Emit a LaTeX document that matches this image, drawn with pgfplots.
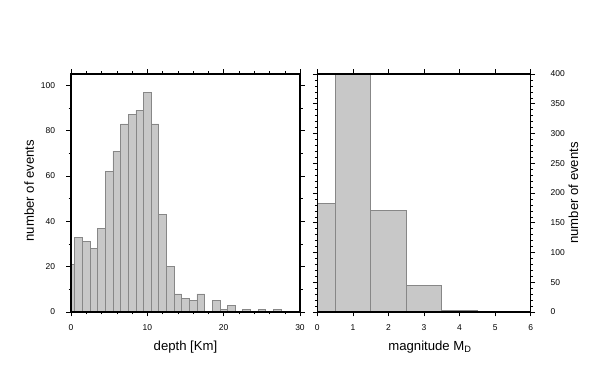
\documentclass[border=0pt]{standalone}
\usepackage{fontspec}
\setmainfont{Liberation Sans}
\usepackage{pgfplots}
\pgfplotsset{compat=1.18}
\definecolor{barfill}{RGB}{200,200,200}
\definecolor{baredge}{RGB}{135,135,135}
\newcommand{\labfont}{\fontsize{13.2}{15}\selectfont}
\pgfplotsset{
  hist/.style={
    scale only axis,
    height=238bp,
    ymin=0,
    tick align=outside,
    major tick length=4.5bp,
    minor tick length=2.5bp,
    every tick/.style={black, line width=0.5bp},
    every minor tick/.style={black, line width=0.4bp},
    axis line style={black, line width=1.1bp},
    tick label style={font=\fontsize{8.5}{10}\selectfont},
    /pgf/number format/assume math mode=true,
    xtick pos=both,
    ytick pos=both,
    xticklabel pos=lower,
    xticklabel style={yshift=-5bp},
    scaled y ticks=false,
    ybar, bar width=1,
    axis on top,
  }
}
\begin{document}
\begin{tikzpicture}
\path (0,0) rectangle (602bp,383bp);
% depth histogram
\begin{axis}[hist,
  at={(71bp,71bp)}, anchor=south west,
  width=229bp,
  xmin=0, xmax=30, ymax=105,
  xtick={0,10,20,30}, minor x tick num=4,
  ytick={0,20,40,60,80,100}, minor y tick num=1,
  yticklabel pos=left,
  yticklabel style={xshift=-8bp},
  xlabel={depth [Km]},
  ylabel={number of events},
  xlabel style={at={(axis description cs:0.5,-0.1626)}, anchor=base, font=\labfont},
  ylabel style={at={(axis description cs:-0.1616,0.51)}, anchor=base, font=\labfont},
]
\addplot[fill=barfill, draw=baredge, line width=0.7bp] coordinates {
(0,21) (1,33) (2,31) (3,28) (4,37) (5,62) (6,71) (7,83) (8,87) (9,89)
(10,97) (11,83) (12,43) (13,20) (14,8) (15,6) (16,5) (17,8) (18,0) (19,5)
(20,1) (21,3) (22,0) (23,1) (24,0) (25,1) (26,0) (27,1)
};
\end{axis}
% magnitude histogram
\begin{axis}[hist,
  at={(317.3bp,71bp)}, anchor=south west,
  width=213.4bp,
  xmin=0, xmax=6, ymax=400,
  xtick={0,1,2,3,4,5,6},
  ytick={0,50,100,150,200,250,300,350,400}, minor y tick num=4,
  yticklabel pos=right,
  yticklabel style={xshift=12bp},
  xlabel={magnitude M\textsubscript{D}},
  ylabel={number of events},
  xlabel style={at={(axis description cs:0.528,-0.1626)}, anchor=base, font=\labfont},
  ylabel style={at={(axis description cs:1.222,0.5)}, anchor=base, font=\labfont},
]
\addplot[fill=barfill, draw=baredge, line width=0.7bp] coordinates {
(0,183) (1,400) (2,171) (3,45) (4,3) (5,0)
};
\end{axis}
\end{tikzpicture}
\end{document}
